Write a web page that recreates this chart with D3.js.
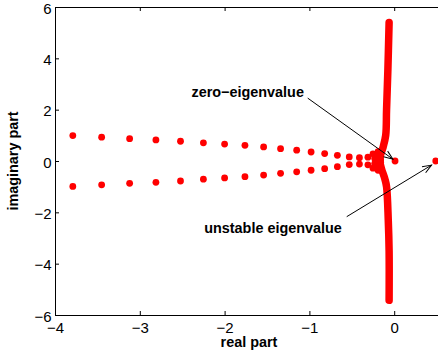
<!DOCTYPE html>
<html>
<head>
<meta charset="utf-8">
<script src="https://cdn.jsdelivr.net/npm/d3@7"></script>
<style>
  body { margin: 0; background: #fff; }
  svg { display: block; font-family: "Liberation Sans", Arial, sans-serif; }
  .axis path, .axis line { stroke: #000; stroke-width: 1; }
  .axis text { font-size: 15px; fill: #000; }
  .label, .note { font-size: 14.4px; font-weight: bold; fill: #000; }
</style>
</head>
<body>
<script>
// eigenvalue data
var upperRe = [-3.79, -3.45, -3.12, -2.81, -2.52, -2.25, -2.0, -1.76, -1.54, -1.34, -1.15, -0.98, -0.82, -0.67, -0.53, -0.41, -0.31];
var upperIm = [0.99, 0.93, 0.87, 0.82, 0.77, 0.71, 0.66, 0.61, 0.55, 0.48, 0.42, 0.35, 0.29, 0.22, 0.16, 0.13, 0.15];
var lowerIm = [-0.99, -0.93, -0.87, -0.83, -0.78, -0.71, -0.66, -0.61, -0.55, -0.48, -0.42, -0.36, -0.30, -0.22, -0.14, -0.12, -0.15];
var clusterRe = [-0.25, -0.23, -0.19, -0.18, -0.16, -0.25, -0.23, -0.19, -0.18, -0.16];
var clusterIm = [0.28, 0.1, 0.36, 0.2, 0.05, -0.28, -0.1, -0.36, -0.2, -0.05];
// dense branch near the imaginary axis
var branchRe = [-0.06, -0.075, -0.09, -0.10, -0.13, -0.16, -0.17, -0.15, -0.11, -0.09, -0.07, -0.06, -0.06];
var branchIm = [5.40, 3.5, 2.0, 1.0, 0.55, 0.25, 0, -0.3, -0.7, -1.0, -2.3, -3.5, -5.43];
var zeroEig = [0.01, 0.0];
var unstableEig = [0.49, 0.0];
var xTicks = [-4, -3, -2, -1, 0];
var yTicks = [-6, -4, -2, 0, 2, 4, 6];
var notes = [
  {text: "zero\u2212eigenvalue", tx: -2.39, ty: 2.7, from: [-1.02, 2.45], to: [-0.015, 0.07]},
  {text: "unstable eigenvalue", tx: -2.24, ty: -2.6, from: [-0.56, -2.17], to: [0.44, -0.16]}
];

var margin = {top: 7, right: 0, bottom: 46, left: 55},
    width = 438,
    height = 361,
    plotH = height - margin.top - margin.bottom;

var x = d3.scaleLinear().domain([-4, 1]).range([0, 424]);
var y = d3.scaleLinear().domain([-6, 6]).range([plotH, 0]);

var svg = d3.select("body").append("svg")
    .attr("width", width)
    .attr("height", height)
  .append("g")
    .attr("transform", "translate(" + margin.left + "," + margin.top + ")");

svg.append("defs").append("marker")
    .attr("id", "arr")
    .attr("markerUnits", "userSpaceOnUse")
    .attr("markerWidth", 12).attr("markerHeight", 12)
    .attr("viewBox", "-10 -6 12 12")
    .attr("refX", 0).attr("refY", 0)
    .attr("orient", "auto")
  .append("path")
    .attr("d", "M-9,-3.5L0,0L-9,3.5")
    .attr("fill", "none")
    .attr("stroke", "#000")
    .attr("stroke-width", 1);

// axes with inward ticks
svg.append("g")
    .attr("class", "x axis")
    .attr("transform", "translate(0," + plotH + ")")
    .call(d3.axisBottom(x).tickValues(xTicks).tickSizeInner(-4).tickSizeOuter(0).tickPadding(7)
      .tickFormat(d3.format("")));

svg.append("g")
    .attr("class", "x axis")
    .call(d3.axisTop(x).tickValues(xTicks).tickSizeInner(-4).tickSizeOuter(0).tickFormat(""));

svg.append("g")
    .attr("class", "y axis")
    .call(d3.axisLeft(y).tickValues(yTicks).tickSizeInner(-4).tickSizeOuter(0).tickPadding(3.5)
      .tickFormat(d3.format("")))
  .selectAll("text")
    .attr("dy", "0.42em");

svg.selectAll(".axis text").attr("font-family", null).attr("font-size", null);

// thick branch
svg.append("path")
    .datum(d3.range(branchRe.length))
    .attr("fill", "none")
    .attr("stroke", "#ff0000")
    .attr("stroke-width", 7.5)
    .attr("stroke-linecap", "round")
    .attr("stroke-linejoin", "round")
    .attr("d", d3.line().curve(d3.curveCatmullRom)
      .x(function(i) { return x(branchRe[i]); })
      .y(function(i) { return y(branchIm[i]); }));

var pts = [];
upperRe.forEach(function(r, i) {
  pts.push([r, upperIm[i]]);
  pts.push([r, lowerIm[i]]);
});
clusterRe.forEach(function(r, i) { pts.push([r, clusterIm[i]]); });
pts.push(zeroEig);
pts.push(unstableEig);

svg.selectAll(".dot")
    .data(pts)
  .enter().append("circle")
    .attr("class", "dot")
    .attr("r", 3.4)
    .attr("cx", function(d) { return x(d[0]); })
    .attr("cy", function(d) { return y(d[1]); })
    .style("fill", "#ff0000");

// annotations
svg.selectAll(".arrow")
    .data(notes)
  .enter().append("line")
    .attr("class", "arrow")
    .attr("x1", function(d) { return x(d.from[0]); })
    .attr("y1", function(d) { return y(d.from[1]); })
    .attr("x2", function(d) { return x(d.to[0]); })
    .attr("y2", function(d) { return y(d.to[1]); })
    .attr("stroke", "#000")
    .attr("stroke-width", 1)
    .attr("marker-end", "url(#arr)");

svg.selectAll(".note")
    .data(notes)
  .enter().append("text")
    .attr("class", "note")
    .attr("x", function(d) { return x(d.tx); })
    .attr("y", function(d) { return y(d.ty); })
    .attr("dy", ".35em")
    .text(function(d) { return d.text; });

svg.append("text")
    .attr("class", "label")
    .attr("x", 194)
    .attr("y", plotH + 32)
    .style("text-anchor", "middle")
    .text("real part");

svg.append("text")
    .attr("class", "label")
    .attr("transform", "rotate(-90)")
    .attr("x", -y(0))
    .attr("y", -37)
    .style("text-anchor", "middle")
    .text("imaginary part");
</script>
</body>
</html>
